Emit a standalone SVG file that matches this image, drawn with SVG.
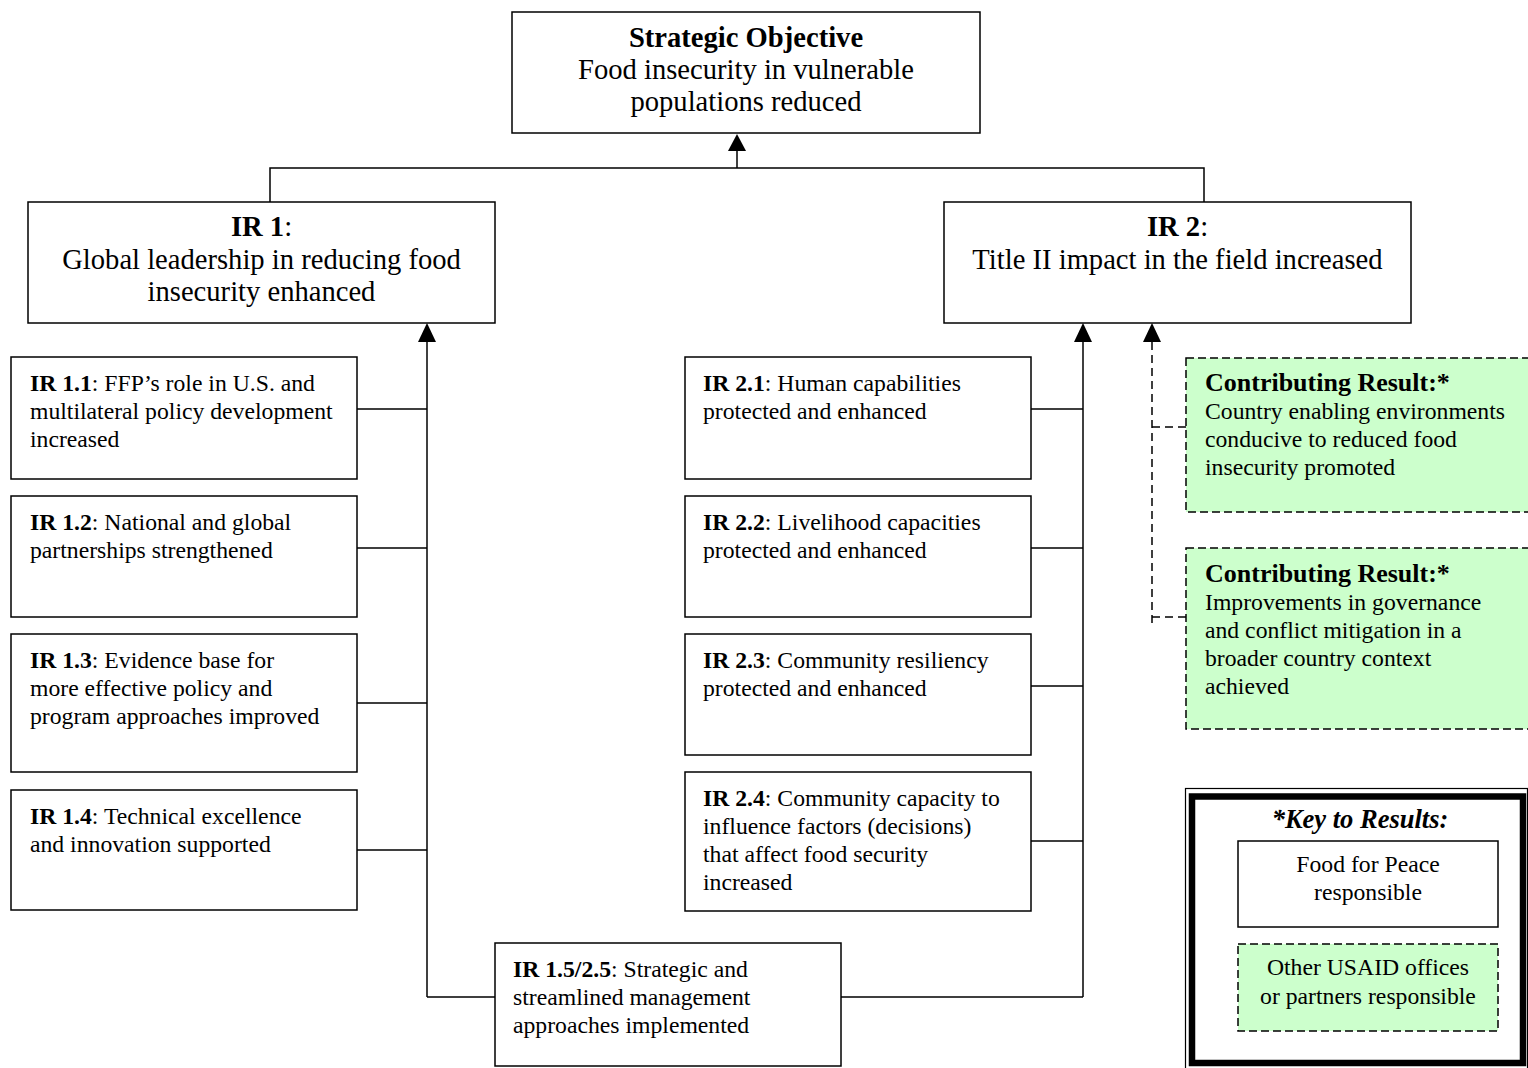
<svg xmlns="http://www.w3.org/2000/svg" width="1528" height="1068" viewBox="0 0 1528 1068">
<defs>
<style>
text{font-family:"Liberation Serif","Times New Roman",serif;fill:#000}
.big{font-size:28.6px}
.sm{font-size:23.7px}
.b{font-weight:bold}
.c{text-anchor:middle}
.box{fill:#fff;stroke:#000;stroke-width:1.5}
.gbox{fill:#ccffcc;stroke:#000;stroke-width:1.5;stroke-dasharray:8 4}
.ln{fill:none;stroke:#000;stroke-width:1.5}
.dl{fill:none;stroke:#000;stroke-width:1.5;stroke-dasharray:8 5}
</style>
</defs>
<g id="connectors">
<path class="ln" d="M737 168 V150"/>
<path d="M737 134 L746 151 L728 151 Z"/>
<path class="ln" d="M270 202 V168 H1204 V202"/>
<path class="ln" d="M427 997 V340"/>
<path d="M427 323 L436 342 L418 342 Z"/>
<path class="ln" d="M357 409 H427 M357 548 H427 M357 703 H427 M357 850 H427 M427 997 H495"/>
<path class="ln" d="M1083 997 V340"/>
<path d="M1083 323 L1092 342 L1074 342 Z"/>
<path class="ln" d="M1031 409 H1083 M1031 548 H1083 M1031 686 H1083 M1031 841 H1083 M841 997 H1083"/>
<path class="dl" d="M1152 342 V627"/>
<path d="M1152 323 L1161 342 L1143 342 Z"/>
<path class="dl" d="M1152 427 H1186 M1152 617 H1186"/>
</g>
<g id="so">
<rect class="box" x="512" y="12" width="468" height="121"/>
<text class="big b c" x="746" y="47">Strategic Objective</text>
<text class="big c" x="746" y="79">Food insecurity in vulnerable</text>
<text class="big c" x="746" y="111">populations reduced</text>
</g>
<g id="ir1">
<rect class="box" x="28" y="202" width="467" height="121"/>
<text class="big c" x="261.5" y="236"><tspan class="b">IR 1</tspan>:</text>
<text class="big c" x="261.5" y="269">Global leadership in reducing food</text>
<text class="big c" x="261.5" y="301">insecurity enhanced</text>
</g>
<g id="ir2">
<rect class="box" x="944" y="202" width="467" height="121"/>
<text class="big c" x="1177.5" y="236"><tspan class="b">IR 2</tspan>:</text>
<text class="big c" x="1177.5" y="269">Title II impact in the field increased</text>
</g>
<g id="ir11">
<rect class="box" x="11" y="357" width="346" height="122"/>
<text class="sm" x="30" y="391"><tspan class="b">IR 1.1</tspan>: FFP’s role in U.S. and</text>
<text class="sm" x="30" y="419">multilateral policy development</text>
<text class="sm" x="30" y="447">increased</text>
</g>
<g id="ir12">
<rect class="box" x="11" y="496" width="346" height="121"/>
<text class="sm" x="30" y="530"><tspan class="b">IR 1.2</tspan>: National and global</text>
<text class="sm" x="30" y="558">partnerships strengthened</text>
</g>
<g id="ir13">
<rect class="box" x="11" y="634" width="346" height="138"/>
<text class="sm" x="30" y="668"><tspan class="b">IR 1.3</tspan>: Evidence base for</text>
<text class="sm" x="30" y="696">more effective policy and</text>
<text class="sm" x="30" y="724">program approaches improved</text>
</g>
<g id="ir14">
<rect class="box" x="11" y="790" width="346" height="120"/>
<text class="sm" x="30" y="824"><tspan class="b">IR 1.4</tspan>: Technical excellence</text>
<text class="sm" x="30" y="852">and innovation supported</text>
</g>
<g id="ir21">
<rect class="box" x="685" y="357" width="346" height="122"/>
<text class="sm" x="703" y="391"><tspan class="b">IR 2.1</tspan>: Human capabilities</text>
<text class="sm" x="703" y="419">protected and enhanced</text>
</g>
<g id="ir22">
<rect class="box" x="685" y="496" width="346" height="121"/>
<text class="sm" x="703" y="530"><tspan class="b">IR 2.2</tspan>: Livelihood capacities</text>
<text class="sm" x="703" y="558">protected and enhanced</text>
</g>
<g id="ir23">
<rect class="box" x="685" y="634" width="346" height="121"/>
<text class="sm" x="703" y="668"><tspan class="b">IR 2.3</tspan>: Community resiliency</text>
<text class="sm" x="703" y="696">protected and enhanced</text>
</g>
<g id="ir24">
<rect class="box" x="685" y="772" width="346" height="139"/>
<text class="sm" x="703" y="806"><tspan class="b">IR 2.4</tspan>: Community capacity to</text>
<text class="sm" x="703" y="834">influence factors (decisions)</text>
<text class="sm" x="703" y="862">that affect food security</text>
<text class="sm" x="703" y="890">increased</text>
</g>
<g id="ir15">
<rect class="box" x="495" y="943" width="346" height="123"/>
<text class="sm" x="513" y="977"><tspan class="b">IR 1.5/2.5</tspan>: Strategic and</text>
<text class="sm" x="513" y="1005">streamlined management</text>
<text class="sm" x="513" y="1033">approaches implemented</text>
</g>
<g id="cr1">
<rect class="gbox" x="1186" y="358" width="360" height="154"/>
<text class="b" x="1205" y="391" style="font-size:26px">Contributing Result:*</text>
<text class="sm" x="1205" y="419">Country enabling environments</text>
<text class="sm" x="1205" y="447">conducive to reduced food</text>
<text class="sm" x="1205" y="475">insecurity promoted</text>
</g>
<g id="cr2">
<rect class="gbox" x="1186" y="548" width="360" height="181"/>
<text class="b" x="1205" y="582" style="font-size:26px">Contributing Result:*</text>
<text class="sm" x="1205" y="610">Improvements in governance</text>
<text class="sm" x="1205" y="638">and conflict mitigation in a</text>
<text class="sm" x="1205" y="666">broader country context</text>
<text class="sm" x="1205" y="694">achieved</text>
</g>
<g id="key">
<rect x="1185.5" y="788.5" width="342" height="300" fill="#fff" stroke="#000" stroke-width="1.2"/>
<rect x="1192" y="796.5" width="331" height="266.5" fill="none" stroke="#000" stroke-width="6.5"/>
<text class="b c" x="1360" y="828" style="font-size:26.5px;font-style:italic">*Key to Results:</text>
<rect class="box" x="1238" y="841" width="260" height="86"/>
<text class="sm c" x="1368" y="872">Food for Peace</text>
<text class="sm c" x="1368" y="900">responsible</text>
<rect class="gbox" x="1238" y="944" width="260" height="87"/>
<text class="sm c" x="1368" y="975">Other USAID offices</text>
<text class="sm c" x="1368" y="1004">or partners responsible</text>
</g>
</svg>
